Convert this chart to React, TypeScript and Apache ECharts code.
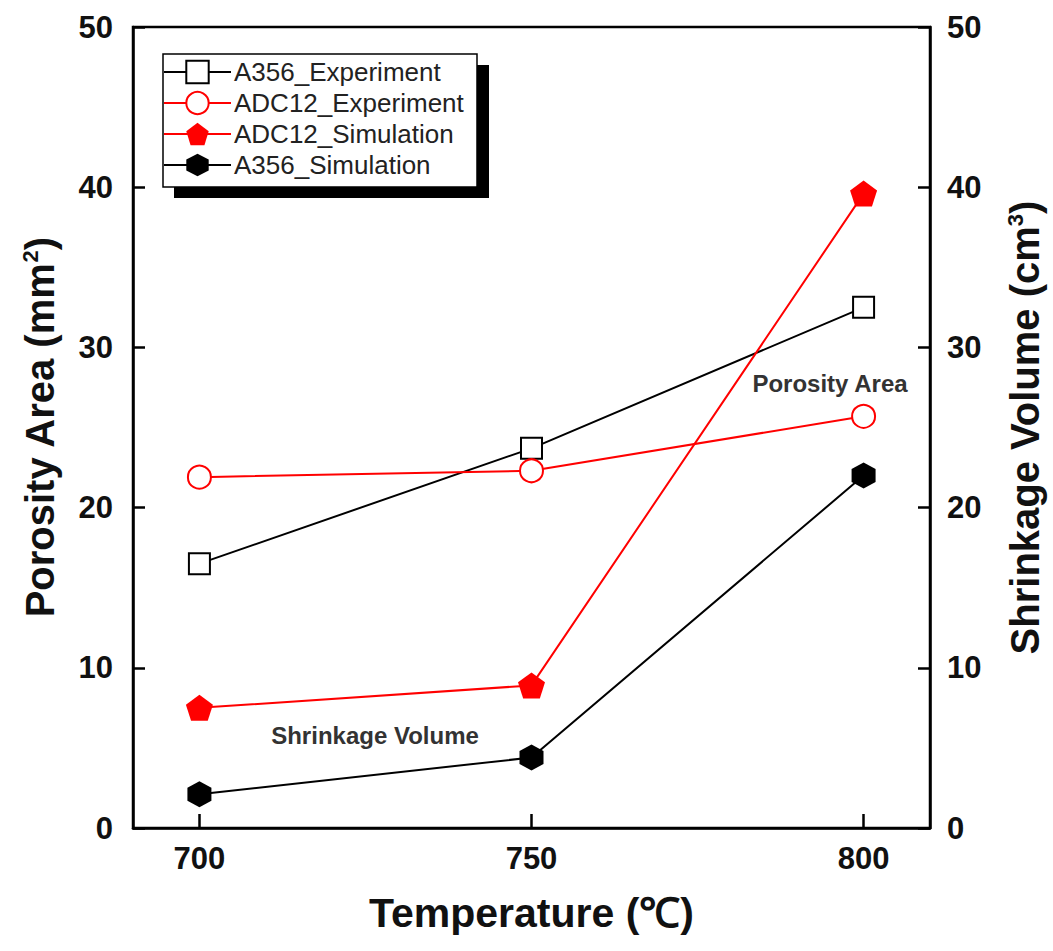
import React, { useEffect, useRef } from "react";
import * as echarts from "echarts";

const temps = [700, 750, 800];
const xTicks = [700, 750, 800];
const a356Exp = [16.5, 23.7, 32.5];
const adc12Exp = [21.9, 22.3, 25.7];
const adc12Sim = [7.5, 8.9, 39.6];
const a356Sim = [2.1, 4.4, 22.0];

const FONT = "Arial, 'Liberation Sans', sans-serif";
const PENTAGON = "path://M0,-10 L9.51,-3.09 L5.88,8.09 L-5.88,8.09 L-9.51,-3.09 Z";
const HEXAGON = "path://M0,-10 L8.66,-5 L8.66,5 L0,10 L-8.66,5 L-8.66,-5 Z";

const pairs = (ys: number[]) => temps.map((t, i) => [t, ys[i]]);

export default function App() {
  const ref = useRef<HTMLDivElement>(null);
  useEffect(() => {
    if (!ref.current) return;
    const chart = echarts.init(ref.current, undefined, { renderer: "svg" });
    const tickLabel = { fontFamily: FONT, fontWeight: "bold" as const, fontSize: 31, color: "#111" };
    const titleRich = {
      a: { fontFamily: FONT, fontWeight: "bold" as const, fontSize: 40, color: "#111" },
      s: { fontFamily: FONT, fontWeight: "bold" as const, fontSize: 22, color: "#111", verticalAlign: "top" as const, padding: [0, 0, 20, 0] },
    };
    chart.setOption({
      animation: false,
      backgroundColor: "#fff",
      grid: { left: 133, right: 123, top: 27, bottom: 123, show: true, borderColor: "#000", borderWidth: 2.5, backgroundColor: "transparent" },
      xAxis: {
        type: "value",
        min: 690,
        max: 810,
        name: "Temperature (℃)",
        nameLocation: "middle",
        nameGap: 64,
        nameTextStyle: { fontFamily: FONT, fontWeight: "bold", fontSize: 41, color: "#111" },
        axisLine: { show: true, lineStyle: { color: "#000", width: 2.5 } },
        axisTick: { show: true, inside: true, length: 14, lineStyle: { color: "#000", width: 2.5 }, customValues: xTicks },
        axisLabel: { ...tickLabel, margin: 15, customValues: xTicks },
        splitLine: { show: false },
      },
      yAxis: [
        {
          type: "value",
          min: 0,
          max: 50,
          interval: 10,
          position: "left",
          name: "{a|Porosity Area (mm}{s|2}{a|)}",
          nameLocation: "middle",
          nameGap: 72,
          nameTextStyle: { rich: titleRich },
          axisLine: { show: true, lineStyle: { color: "#000", width: 2.5 } },
          axisTick: { show: true, inside: true, length: 12, lineStyle: { color: "#000", width: 2.5 } },
          axisLabel: { ...tickLabel, margin: 20 },
          splitLine: { show: false },
        },
        {
          type: "value",
          min: 0,
          max: 50,
          interval: 10,
          position: "right",
          name: "{a|Shrinkage Volume (cm}{s|3}{a|)}",
          nameLocation: "middle",
          nameGap: 74,
          nameRotate: 90,
          nameTextStyle: { rich: titleRich },
          axisLine: { show: true, lineStyle: { color: "#000", width: 2.5 } },
          axisTick: { show: true, inside: true, length: 12, lineStyle: { color: "#000", width: 2.5 } },
          axisLabel: { ...tickLabel, margin: 17 },
          splitLine: { show: false },
        },
      ],
      legend: {
        orient: "vertical",
        left: 163,
        top: 59,
        z: 10,
        padding: 0,
        itemWidth: 67,
        itemHeight: 28,
        itemGap: 5,
        textStyle: { fontFamily: FONT, fontSize: 26, color: "#222", padding: [0, 0, 0, -2] },
        data: ["A356_Experiment", "ADC12_Experiment", "ADC12_Simulation", "A356_Simulation"],
      },
      graphic: [
        { type: "rect", z: 1, shape: { x: 174, y: 65, width: 315, height: 133 }, style: { fill: "#000" } },
        { type: "rect", z: 2, shape: { x: 163, y: 54, width: 314, height: 133 }, style: { fill: "#fff", stroke: "#000", lineWidth: 1.5 } },
        { type: "text", z: 5, x: 830, y: 383, style: { text: "Porosity Area", fontFamily: FONT, fontWeight: "bold", fontSize: 24, fill: "#333", align: "center", verticalAlign: "middle" } },
        { type: "text", z: 5, x: 375, y: 735, style: { text: "Shrinkage Volume", fontFamily: FONT, fontWeight: "bold", fontSize: 24, fill: "#333", align: "center", verticalAlign: "middle" } },
      ],
      series: [
        {
          name: "A356_Experiment",
          type: "line",
          yAxisIndex: 0,
          data: pairs(a356Exp),
          symbol: "emptyRect",
          symbolSize: 21,
          lineStyle: { color: "#000", width: 2 },
          itemStyle: { color: "#000", borderWidth: 1.5 },
        },
        {
          name: "ADC12_Experiment",
          type: "line",
          yAxisIndex: 0,
          data: pairs(adc12Exp),
          symbol: "emptyCircle",
          symbolSize: 23,
          lineStyle: { color: "#ff0000", width: 2 },
          itemStyle: { color: "#ff0000", borderWidth: 1.5 },
        },
        {
          name: "ADC12_Simulation",
          type: "line",
          yAxisIndex: 1,
          data: pairs(adc12Sim),
          symbol: PENTAGON,
          symbolSize: [27, 26],
          lineStyle: { color: "#ff0000", width: 2 },
          itemStyle: { color: "#ff0000" },
        },
        {
          name: "A356_Simulation",
          type: "line",
          yAxisIndex: 1,
          data: pairs(a356Sim),
          symbol: HEXAGON,
          symbolSize: [24, 26],
          lineStyle: { color: "#000", width: 2 },
          itemStyle: { color: "#000" },
        },
      ],
    });
    return () => chart.dispose();
  }, []);
  return <div ref={ref} style={{ position: "fixed", left: 0, top: 0, width: 1053, height: 951, background: "#fff" }} />;
}
